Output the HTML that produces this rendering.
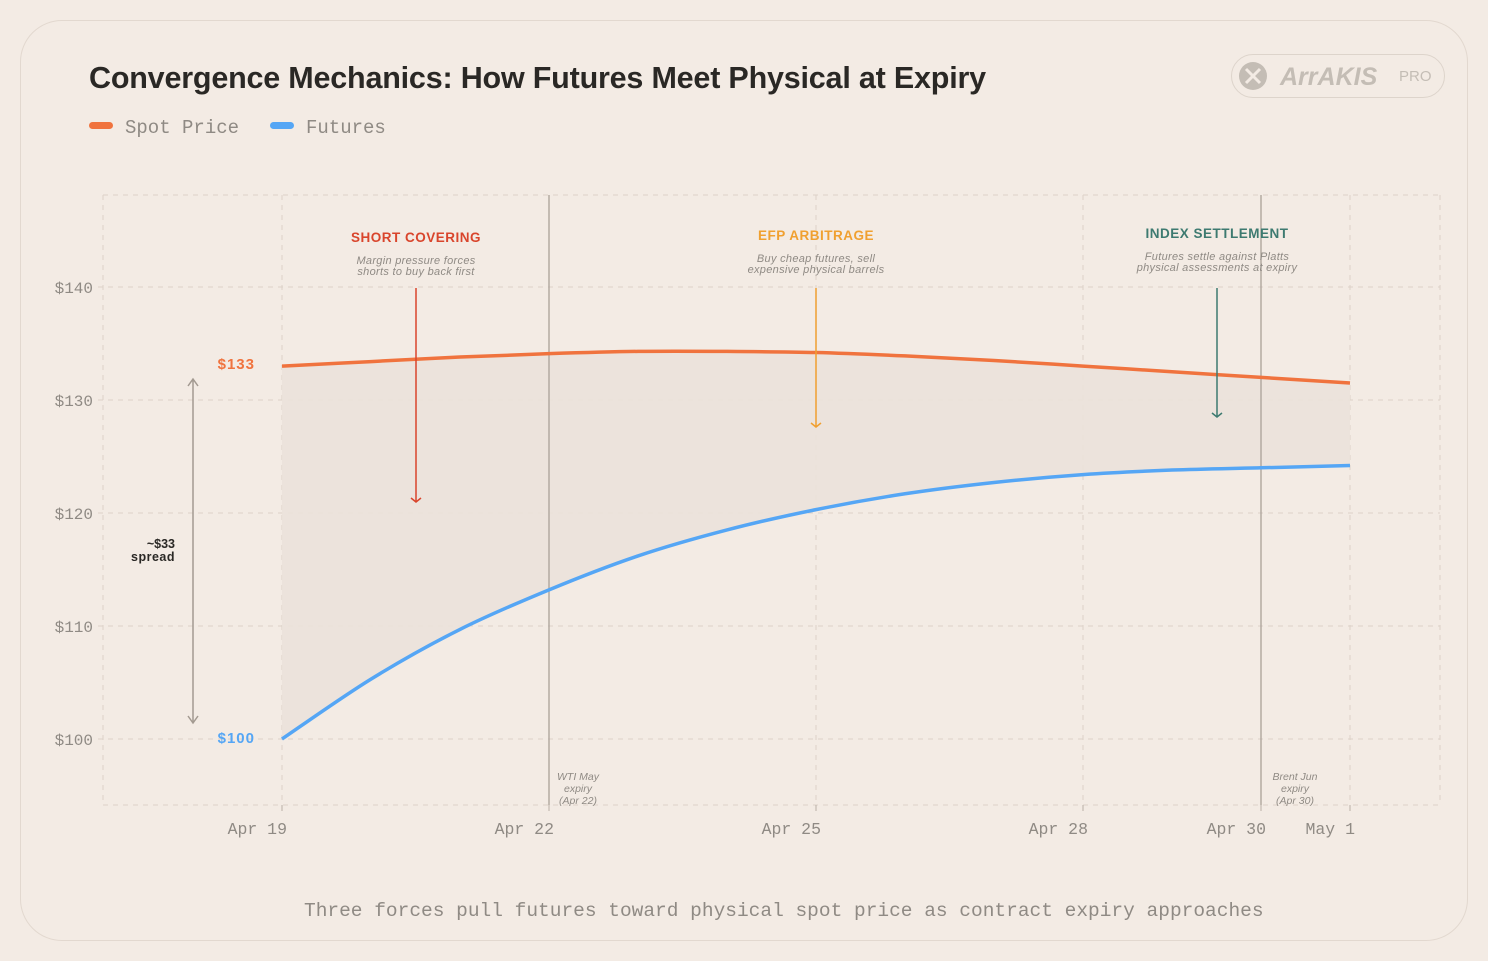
<!DOCTYPE html>
<html><head><meta charset="utf-8"><style>
html,body{margin:0;padding:0;background:#f3ebe4;}
body{width:1488px;height:961px;position:relative;overflow:hidden;font-family:"Liberation Sans",sans-serif;}
.card{position:absolute;left:20px;top:20px;width:1446px;height:919px;border:1.5px solid #e2d8cf;border-radius:42px;background:#f3ebe4;}
.title{position:absolute;left:89px;top:61px;font-size:30.5px;font-weight:bold;color:#2a2825;letter-spacing:-0.2px;}
.legend{position:absolute;top:117px;font-family:"Liberation Mono",monospace;font-size:19px;color:#8f8a84;}
.sw{display:inline-block;width:24px;height:7px;border-radius:4px;vertical-align:middle;margin-right:12px;position:relative;top:-2px;}
.logo{position:absolute;left:1231px;top:54px;width:212px;height:42px;border:1.5px solid #ddd4cb;border-radius:22px;}
.foot{position:absolute;left:304px;top:900px;font-family:"Liberation Mono",monospace;font-size:19.5px;color:#8f8a84;white-space:nowrap;}
</style></head><body>
<div class="card"></div>
<div class="title">Convergence Mechanics: How Futures Meet Physical at Expiry</div>
<div class="legend" style="left:89px"><span class="sw" style="background:#f0733e"></span>Spot Price</div>
<div class="legend" style="left:270px"><span class="sw" style="background:#55a6f5"></span>Futures</div>
<div class="logo">
<svg width="212" height="42" style="position:absolute;left:0;top:0">
<circle cx="21" cy="21" r="14" fill="#c4bdb5"/>
<path d="M14 14 L28 28 M28 14 L14 28" stroke="#f3ebe4" stroke-width="3"/>
<text x="48" y="30" font-family="Liberation Sans" font-weight="bold" font-style="italic" font-size="25" fill="#c4bdb5">ArrAKIS</text>
<text x="167" y="26" font-family="Liberation Sans" font-size="15" fill="#c4bdb5">PRO</text>
</svg></div>
<svg id="chart" width="1488" height="961" style="position:absolute;left:0;top:0"></svg>
<div class="foot">Three forces pull futures toward physical spot price as contract expiry approaches</div>
<script>
const days=[0,1,2,3,4,5,6,7,8,9,10,11,12];
const spot=[133.0,133.4,133.8,134.1,134.3,134.3,134.2,133.9,133.5,133.0,132.5,132.0,131.5];
const futures=[100,105.3,109.7,113.2,116.2,118.5,120.3,121.7,122.7,123.4,123.8,124.0,124.2];
const yTicks=[100,110,120,130,140];
const yTickLabels=["$100","$110","$120","$130","$140"];
const xTickDays=[0,3,6,9,11,12];
const xTickLabels=["Apr 19","Apr 22","Apr 25","Apr 28","Apr 30","May 1"];
const NS="http://www.w3.org/2000/svg";
const svg=document.getElementById('chart');
const X=d=>282+89*d;
const Y=v=>739-(v-100)*11.3;
function el(t,a,txt){const e=document.createElementNS(NS,t);for(const k in a)e.setAttribute(k,a[k]);if(txt!==undefined)e.textContent=txt;svg.appendChild(e);return e;}
const L=103,R=1440,T=195,B=805;
const GC='#dcd2c8';
[T,B].forEach(y=>{const g=el('line',{x1:L,x2:R,y1:y,y2:y,stroke:GC,'stroke-dasharray':'5 5'});});
yTicks.forEach((v,i)=>{
 const g=el('line',{x1:L-5,x2:R,y1:Y(v),y2:Y(v),stroke:GC,'stroke-dasharray':'5 5'});
 
 const t=el('text',{x:93,y:Y(v)+6,'text-anchor':'end','font-family':'Liberation Mono','font-size':16,fill:'#8f8a84'},yTickLabels[i]);
 
});
[L,R].forEach(x=>{el('line',{x1:x,x2:x,y1:T,y2:B,stroke:GC,'stroke-dasharray':'5 5'});});
xTickDays.forEach((d,i)=>{
 const g=el('line',{x1:X(d),x2:X(d),y1:T,y2:B,stroke:GC,'stroke-dasharray':'5 5'});
 
 el('line',{x1:X(d),x2:X(d),y1:B,y2:B+6,stroke:'#b8afa6'});
 const t=el('text',{x:X(d)+5,y:834,'text-anchor':'end','font-family':'Liberation Mono','font-size':16.5,fill:'#8f8a84'},xTickLabels[i]);
 
});
function pts(arr){return days.map((d,i)=>[X(d),Y(arr[i])]);}
function smooth(p){let s=`M${p[0][0]},${p[0][1]}`;for(let i=0;i<p.length-1;i++){const p0=p[i-1]||p[i],p1=p[i],p2=p[i+1],p3=p[i+2]||p2;
 s+=` C${p1[0]+(p2[0]-p0[0])/6},${p1[1]+(p2[1]-p0[1])/6} ${p2[0]-(p3[0]-p1[0])/6},${p2[1]-(p3[1]-p1[1])/6} ${p2[0]},${p2[1]}`;}return s;}
const sp=pts(spot),fp=pts(futures);
const fRev=fp.slice().reverse();
const rs=smooth(fRev);
const area=el('path',{d:smooth(sp)+' L'+fRev[0][0]+','+fRev[0][1]+rs.slice(rs.indexOf('C')-1)+' Z',fill:'#ebe2da',opacity:0.9});

[[3,'WTI May','expiry','(Apr 22)',578],[11,'Brent Jun','expiry','(Apr 30)',1295]].forEach(e=>{
 const l=el('line',{x1:X(e[0]),x2:X(e[0]),y1:T,y2:B,stroke:'#aaa198','stroke-width':1.3});
 
 [e[1],e[2],e[3]].forEach((s,j)=>{const t=el('text',{x:e[4],y:780+j*12,'text-anchor':'middle','font-size':10.5,'font-style':'italic',fill:'#8f8a84'},s);});
});
const s1=el('path',{d:smooth(sp),fill:'none',stroke:'#f0733e','stroke-width':3.5});

const s2=el('path',{d:smooth(fp),fill:'none',stroke:'#55a6f5','stroke-width':3.5});

const a1=el('text',{x:255,y:369,'text-anchor':'end','font-size':15,'font-weight':'bold','letter-spacing':1,fill:'#f0733e'},'$'+Math.round(spot[0]));

const a2=el('text',{x:255,y:743,'text-anchor':'end','font-size':15,'font-weight':'bold','letter-spacing':1,fill:'#55a6f5'},'$'+Math.round(futures[0]));

const sa=el('path',{d:'M193 380 L193 722 M188 386 L193 379 L198 386 M188 716 L193 723 L198 716',stroke:'#a39a91','stroke-width':1.5,fill:'none'});

el('text',{x:175,y:548,'text-anchor':'end','font-size':12.5,'font-weight':'bold',fill:'#2a2825'},'~$33');
el('text',{x:175,y:561,'text-anchor':'end','font-size':12.5,'font-weight':'bold','letter-spacing':0.5,fill:'#2a2825'},'spread');
[[416,'SHORT COVERING','#d9452c',242,'Margin pressure forces','shorts to buy back first',288,502],
 [816,'EFP ARBITRAGE','#f0a030',240,'Buy cheap futures, sell','expensive physical barrels',288,427],
 [1217,'INDEX SETTLEMENT','#3d7a70',238,'Futures settle against Platts','physical assessments at expiry',288,417]].forEach(a=>{
 const t=el('text',{x:a[0],y:a[3],'text-anchor':'middle','font-size':13.5,'font-weight':'bold','letter-spacing':0.5,fill:a[2]},a[1]);
 
 el('text',{x:a[0],y:a[3]+22,'text-anchor':'middle','font-size':11,'font-style':'italic','letter-spacing':0.3,fill:'#8f8a84'},a[4]);
 el('text',{x:a[0],y:a[3]+33,'text-anchor':'middle','font-size':11,'font-style':'italic','letter-spacing':0.3,fill:'#8f8a84'},a[5]);
 const ar=el('path',{d:`M${a[0]} ${a[6]} L${a[0]} ${a[7]} M${a[0]-5} ${a[7]-4} L${a[0]} ${a[7]} L${a[0]+5} ${a[7]-4}`,stroke:a[2],'stroke-width':1.5,fill:'none'});
 
});
</script>
</body></html>
